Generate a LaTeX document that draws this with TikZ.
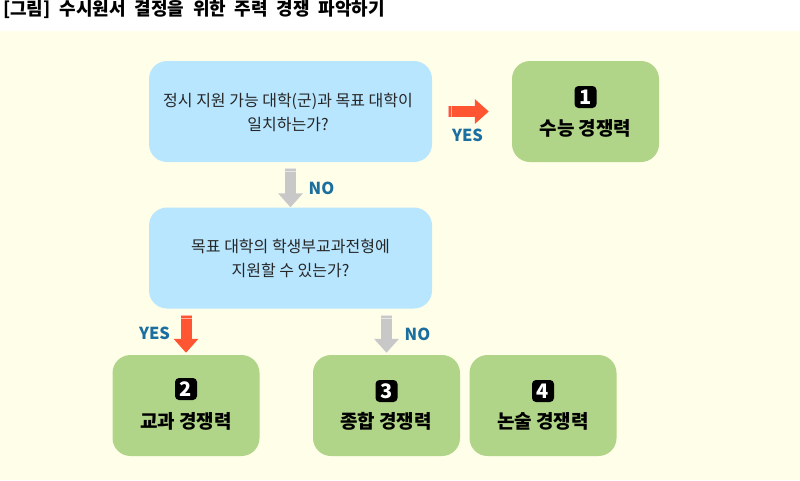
\documentclass[tikz,border=0pt]{standalone}
\usepackage{fontspec}
\setmainfont{Noto Sans CJK KR}
\usetikzlibrary{arrows.meta}
\definecolor{bgc}{HTML}{FFFFE9}
\definecolor{qblue}{HTML}{B8E6FF}
\definecolor{rgreen}{HTML}{B0D488}
\definecolor{lblblue}{HTML}{1A6EA0}
\definecolor{yesc}{HTML}{FF5533}
\definecolor{noc}{HTML}{C8C8C8}
\tikzset{
  question/.style={fill=qblue,rounded corners=18pt,minimum width=283pt,minimum height=101pt,inner sep=0pt},
  result/.style={fill=rgreen,rounded corners=18pt,minimum width=147pt,minimum height=101pt,inner sep=0pt},
  qtext/.style={align=center,font=\fontsize{16}{24}\selectfont,text=black!85,inner sep=0pt},
  rtext/.style={font=\fontsize{19}{22}\bfseries\selectfont,text=black,inner sep=0pt},
  badge/.style={fill=black,rounded corners=4pt,minimum size=22pt,inner sep=0pt,text=white,font=\fontsize{20}{20}\bfseries\selectfont},
  lbl/.style={font=\fontsize{16.5}{18}\bfseries\selectfont,text=lblblue,inner sep=0pt},
  blockarrow/.style={line width=11pt,-{Triangle[length=14pt,width=24pt]}},
  yesarrow/.style={blockarrow,draw=yesc},
  noarrow/.style={blockarrow,draw=noc},
  stripe/.style={line width=11pt,draw=white,opacity=.55,dash pattern=on 1pt off 2pt on 1pt off 1000pt},
}
\begin{document}
\begin{tikzpicture}[x=1pt,y=-1pt]
\useasboundingbox (0,0) rectangle (800,480);
\fill[bgc] (0,31) rectangle (800,480);
\node[anchor=base west,inner sep=0pt,font=\fontsize{18}{20}\bfseries\selectfont] (title) at (3,15) {\spaceskip=8.8pt [그림] 수시원서 결정을 위한 주력 경쟁 파악하기};
\node[question] (q1) at (290.5,111.5) {};
\node[question] (q2) at (290.5,258) {};
\node[result] (r1) at (585.5,111.5) {};
\node[result] (r2) at (186,405.5) {};
\node[result] (r3) at (386.5,405.5) {};
\node[result] (r4) at (543,405.5) {};
\node[qtext] (q1t) at (288,112) {정시 지원 가능 대학(군)과 목표 대학이\\일치하는가?};
\node[qtext] (q2t) at (290.5,258) {목표 대학의 학생부교과전형에\\지원할 수 있는가?};
\node[badge] (b1) at (585.5,97) {1};
\node[rtext] (t1) at (585.5,128) {수능 경쟁력};
\node[badge] (b2) at (186,389) {2};
\node[rtext] (t2) at (186,421) {교과 경쟁력};
\node[badge] (b3) at (386.5,391) {3};
\node[rtext] (t3) at (386,421) {종합 경쟁력};
\node[badge] (b4) at (543,391) {4};
\node[rtext] (t4) at (543,421) {논술 경쟁력};
\node[lbl] (yes1) at (467.5,135.5) {YES};
\node[lbl] (no1) at (321.5,188.5) {NO};
\node[lbl] (yes2) at (154.5,333.5) {YES};
\node[lbl] (no2) at (417.5,334.5) {NO};
\draw[yesarrow,shorten <=16pt,shorten >=23pt] (q1.east) -- (r1.west);
\draw[stripe,shorten <=16pt,shorten >=50pt] (q1.east) -- (r1.west);
\draw[noarrow,shorten <=6pt] (q1.south) -- (q2.north);
\draw[stripe,shorten <=6pt,shorten >=30pt] (q1.south) -- (q2.north);
\draw[yesarrow,shorten <=6pt,shorten >=2pt] (q2.south -| r2.north) -- (r2.north);
\draw[stripe,shorten <=6pt,shorten >=30pt] (q2.south -| r2.north) -- (r2.north);
\draw[noarrow,shorten <=6pt,shorten >=2pt] (q2.south -| r3.north) -- (r3.north);
\draw[stripe,shorten <=6pt,shorten >=30pt] (q2.south -| r3.north) -- (r3.north);
\end{tikzpicture}
\end{document}
